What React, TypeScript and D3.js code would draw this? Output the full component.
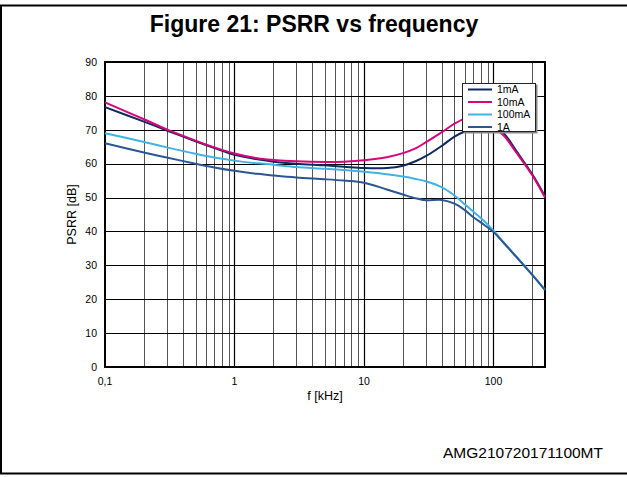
import React, { useEffect, useRef } from "react";
import * as d3 from "d3";

// frequency points in kHz, shared by all series
const freqs = [0.1, 0.2, 0.3, 0.5, 0.7, 1, 1.5, 2, 3, 5, 7, 10, 15, 20, 25, 30, 40, 50, 60, 70, 85, 100, 120, 150, 200, 250];

// PSRR [dB] per load current
const psrr1mA = [76.7, 72.4, 69.8, 66.6, 64.6, 62.6, 61.3, 60.6, 60.0, 59.5, 59.1, 58.7, 58.7, 59.4, 60.7, 62.2, 65.3, 68.0, 69.5, 70.4, 71.2, 71.3, 69.0, 63.8, 56.8, 50.4];
const psrr10mA = [78.1, 73.1, 70.1, 66.8, 64.8, 63.0, 61.6, 61.1, 60.7, 60.5, 60.6, 61.0, 61.9, 63.1, 64.5, 66.3, 69.3, 71.8, 73.3, 73.8, 73.0, 70.8, 68.3, 63.3, 56.5, 50.0];
const psrr100mA = [69.0, 66.4, 64.8, 62.9, 61.8, 60.9, 60.1, 59.7, 59.0, 58.5, 58.1, 57.6, 56.9, 56.2, 55.5, 54.8, 53.0, 50.6, 48.0, 45.8, 43.0, 40.2, 36.8, 32.6, 27.2, 22.8];
const psrr1A = [66.0, 63.3, 61.8, 60.0, 58.9, 57.9, 57.0, 56.5, 55.9, 55.4, 55.0, 54.4, 52.4, 50.9, 49.8, 49.2, 49.3, 48.2, 46.3, 44.2, 41.9, 39.8, 36.6, 32.5, 27.1, 22.7];

const seriesNames = ["1mA", "10mA", "100mA", "1A"];
const seriesValues = [psrr1mA, psrr10mA, psrr100mA, psrr1A];
const seriesColors = ["#0f2a5c", "#d8047c", "#3fb2e6", "#2a5792"];

const yTicks = [0, 10, 20, 30, 40, 50, 60, 70, 80, 90];
const xMajor = [0.1, 1, 10, 100];
const xMajorLabels = ["0,1", "1", "10", "100"];

const W = 627;
const H = 477;

const App = () => {
  const svgRef = useRef<SVGSVGElement>(null);

  useEffect(() => {
    const svg = d3.select(svgRef.current);
    svg.selectAll("*").remove();

    const left = 105, right = 545, top = 62, bottom = 367;
    const font = "Liberation Sans, Arial, sans-serif";

    const x = d3.scaleLog().domain([0.1, 250]).range([left, right]);
    const y = d3.scaleLinear().domain([0, 90]).range([bottom, top]);

    // frame
    svg.append("line").attr("x1", 0).attr("x2", W).attr("y1", 5.5).attr("y2", 5.5)
      .attr("stroke", "#000").attr("stroke-width", 2);
    svg.append("line").attr("x1", 1).attr("x2", 1).attr("y1", 5).attr("y2", 474)
      .attr("stroke", "#000").attr("stroke-width", 2);
    svg.append("line").attr("x1", 0).attr("x2", W).attr("y1", 473.5).attr("y2", 473.5)
      .attr("stroke", "#000").attr("stroke-width", 2);

    svg.append("text")
      .attr("x", 314).attr("y", 32)
      .attr("text-anchor", "middle")
      .attr("font-family", font)
      .attr("font-weight", "bold")
      .style("font-size", "23px")
      .text("Figure 21: PSRR vs frequency");

    // minor vertical grid
    const minor: number[] = [];
    [0.1, 1, 10, 100].forEach((d) => {
      for (let k = 2; k <= 9; k++) {
        if (d * k < 250) minor.push(d * k);
      }
    });
    svg.append("g").selectAll("line").data(minor).enter().append("line")
      .attr("x1", (d) => Math.round(x(d)) + 0.5).attr("x2", (d) => Math.round(x(d)) + 0.5)
      .attr("y1", top).attr("y2", bottom)
      .attr("stroke", "#555").attr("stroke-width", 1);

    // major vertical grid
    svg.append("g").selectAll("line").data(xMajor.slice(1)).enter().append("line")
      .attr("x1", (d) => Math.round(x(d)) + 0.5).attr("x2", (d) => Math.round(x(d)) + 0.5)
      .attr("y1", top).attr("y2", bottom)
      .attr("stroke", "#000").attr("stroke-width", 1.2);

    // horizontal grid
    svg.append("g").selectAll("line").data(yTicks.slice(1, -1)).enter().append("line")
      .attr("x1", left).attr("x2", right)
      .attr("y1", (d) => Math.round(y(d)) + 0.5).attr("y2", (d) => Math.round(y(d)) + 0.5)
      .attr("stroke", "#000").attr("stroke-width", 1.2);

    svg.append("rect")
      .attr("x", left).attr("y", top)
      .attr("width", right - left).attr("height", bottom - top)
      .attr("fill", "none").attr("stroke", "#000").attr("stroke-width", 2);

    // y labels
    svg.append("g").selectAll("text").data(yTicks).enter().append("text")
      .attr("x", 97).attr("y", (d) => y(d) + 3.8)
      .attr("text-anchor", "end")
      .attr("font-family", font)
      .style("font-size", "10.5px")
      .text((d) => d);

    // x labels
    svg.append("g").selectAll("text").data(xMajor).enter().append("text")
      .attr("x", (d) => x(d)).attr("y", 385)
      .attr("text-anchor", "middle")
      .attr("font-family", font)
      .style("font-size", "10.5px")
      .text((d, i) => xMajorLabels[i]);

    svg.append("text")
      .attr("x", (left + right) / 2).attr("y", 400)
      .attr("text-anchor", "middle")
      .attr("font-family", font)
      .style("font-size", "12.5px")
      .text("f [kHz]");

    svg.append("text")
      .attr("transform", `translate(76,${(top + bottom) / 2}) rotate(-90)`)
      .attr("text-anchor", "middle")
      .attr("font-family", font)
      .style("font-size", "12.5px")
      .text("PSRR [dB]");

    // curves
    const line = d3.line<number>()
      .x((d, i) => x(freqs[i]))
      .y((d) => y(d))
      .curve(d3.curveCatmullRom.alpha(0.5));

    svg.append("g").selectAll("path").data(seriesValues).enter().append("path")
      .attr("d", (d) => line(d))
      .attr("fill", "none")
      .attr("stroke", (d, i) => seriesColors[i])
      .attr("stroke-width", 2);

    // legend
    const lg = svg.append("g");
    lg.append("rect").attr("x", 463.5).attr("y", 84.5).attr("width", 74).attr("height", 49)
      .attr("fill", "#888");
    lg.append("rect").attr("x", 462.5).attr("y", 83.5).attr("width", 73).attr("height", 48)
      .attr("fill", "#fff").attr("stroke", "#222").attr("stroke-width", 1);
    seriesNames.forEach((name, i) => {
      const yy = 89.5 + i * 12.5;
      lg.append("line").attr("x1", 468).attr("x2", 492).attr("y1", yy).attr("y2", yy)
        .attr("stroke", seriesColors[i]).attr("stroke-width", 2);
      lg.append("text").attr("x", 497).attr("y", yy + 3.8)
        .attr("font-family", font)
        .style("font-size", "10.5px")
        .text(name);
    });

    svg.append("text")
      .attr("x", 603).attr("y", 458)
      .attr("text-anchor", "end")
      .attr("font-family", font)
      .style("font-size", "15.5px")
      .text("AMG210720171100MT");

    return () => {
      svg.selectAll("*").remove();
    };
  }, []);

  return (
    <svg
      ref={svgRef}
      width={W}
      height={H}
      style={{ position: "absolute", left: 0, top: 0, background: "#fff" }}
    ></svg>
  );
};

export default App;
